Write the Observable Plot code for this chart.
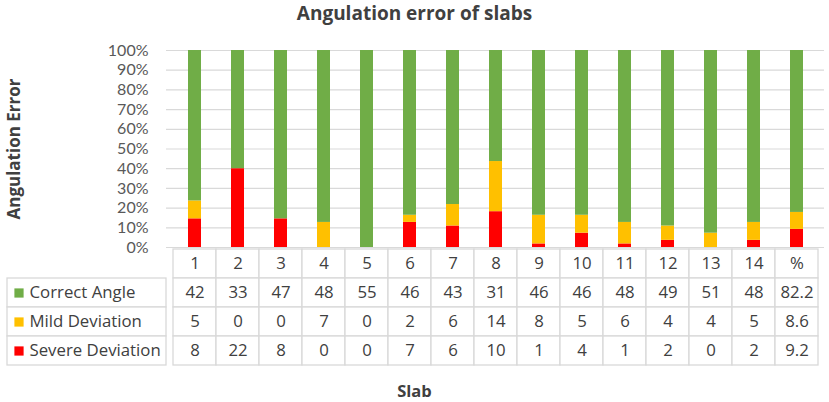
<!DOCTYPE html>
<html><head><meta charset="utf-8">
<script src="https://cdn.jsdelivr.net/npm/d3@7"></script>
<script src="https://cdn.jsdelivr.net/npm/@observablehq/plot@0.6"></script>
<style>
body{margin:0;background:#fff;}
#wrap{position:relative;width:829px;height:402px;font-family:"Open Sans",sans-serif;color:#404040;overflow:hidden;background:#fff}
#title{position:absolute;top:0;left:0;width:829px;text-align:center;font-weight:bold;font-size:19px;line-height:26px;color:#404040}
#ylab{position:absolute;left:12.5px;top:149px;transform:translate(-50%,-50%) rotate(-90deg);font-weight:bold;font-size:17px;white-space:nowrap;color:#404040}
#xlab{position:absolute;top:379px;left:0;width:829px;text-align:center;font-weight:bold;font-size:16.5px;line-height:24px;color:#404040}
.p{position:absolute;left:0}
</style></head>
<body><div id="wrap">
<div id="title">Angulation error of slabs</div>
<div id="ylab">Angulation Error</div>
<div id="xlab">Slab</div>
<div id="chart" class="p" style="top:0"></div>
<div id="table" class="p" style="top:246px"></div>
<div id="legend" class="p" style="top:246px"></div>
</div>
<script>
const slabs = ["1","2","3","4","5","6","7","8","9","10","11","12","13","14","%"];
const series = ["Correct Angle","Mild Deviation","Severe Deviation"];
const colors = ["#70AD47","#FFC000","#FF0000"];
const correct = [42,33,47,48,55,46,43,31,46,46,48,49,51,48,82.2];
const mild    = [5,0,0,7,0,2,6,14,8,5,6,4,4,5,8.6];
const severe  = [8,22,8,0,0,7,6,10,1,4,1,2,0,2,9.2];
const yTicks = [0,0.1,0.2,0.3,0.4,0.5,0.6,0.7,0.8,0.9,1];

const valuesBySeries = {"Correct Angle":correct,"Mild Deviation":mild,"Severe Deviation":severe};
const stackOrder = ["Severe Deviation","Mild Deviation","Correct Angle"];
const rows = [];
slabs.forEach((s,i)=>{ stackOrder.forEach(k=>rows.push({slab:s,series:k,value:valuesBySeries[k][i]})); });

const font = {fontFamily:"Open Sans, sans-serif", fontSize:"16px", color:"#404040", background:"transparent", overflow:"visible"};

const chart = Plot.plot({
  width:829, height:248, marginTop:50, marginBottom:1, marginLeft:166, marginRight:5,
  style:font,
  x:{type:"band", domain:slabs, paddingInner:0.7, paddingOuter:0.35, axis:null},
  y:{domain:[0,1], axis:null},
  color:{domain:series, range:colors},
  marks:[
    Plot.ruleY(yTicks,{stroke:"#d9d9d9", strokeWidth:1.2}),
    Plot.barY(rows, Plot.stackY({offset:"normalize", x:"slab", y:"value", fill:"series"})),
    Plot.axisY(yTicks,{tickSize:0, tickPadding:18, tickFormat:d3.format(".0%"), fontSize:16, fontFamily:"Lato, sans-serif", fill:"#595959", label:null})
  ]
});
document.getElementById("chart").appendChild(chart);

const tableRows = ["head", ...series];
const textData = [];
slabs.forEach((s,i)=>{
  textData.push({slab:s,row:"head",label:s});
  series.forEach(k=>textData.push({slab:s,row:k,label:String(valuesBySeries[k][i])}));
});

const table = Plot.plot({
  width:829, height:122, marginTop:1.5, marginBottom:2, marginLeft:166, marginRight:5,
  style:font,
  x:{type:"band", domain:slabs, padding:0, axis:null},
  y:{type:"band", domain:tableRows, padding:0, axis:null},
  marks:[
    Plot.cell(textData,{x:"slab", y:"row", fill:"white", stroke:"#d9d9d9", strokeWidth:1.3}),
    Plot.text(textData,{x:"slab", y:"row", text:"label", fontSize:16.8, fill:"#404040"})
  ]
});
document.getElementById("table").appendChild(table);

const legendData = series.map((k,i)=>({row:k, color:colors[i]}));
const legend = Plot.plot({
  width:167, height:122, marginTop:1.5, marginBottom:2, marginLeft:7, marginRight:1,
  style:font,
  x:{type:"band", domain:["label"], padding:0, axis:null},
  y:{type:"band", domain:tableRows, padding:0, axis:null},
  marks:[
    Plot.cell(legendData,{x:()=>"label", y:"row", fill:"white", stroke:"#d9d9d9", strokeWidth:1.3}),
    Plot.dot(legendData,{y:"row", frameAnchor:"left", dx:11.5, symbol:"square", r:5.2, fill:d=>d.color, stroke:null}),
    Plot.text(legendData,{y:"row", text:"row", frameAnchor:"left", dx:22, textAnchor:"start", fontSize:16.8, fill:"#404040"})
  ]
});
document.getElementById("legend").appendChild(legend);
</script>
</body></html>
